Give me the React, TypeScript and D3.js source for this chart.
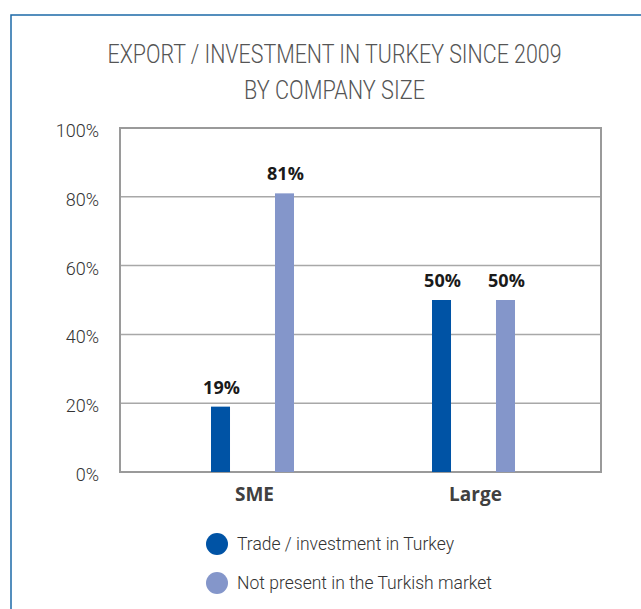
import React, { useEffect, useRef } from "react";
import * as d3 from "d3";

const categories = ["SME", "Large"];
const seriesNames = ["Trade / investment in Turkey", "Not present in the Turkish market"];
const tradeValues = [19, 50];
const notPresentValues = [81, 50];
const yTicks = [0, 20, 40, 60, 80, 100];
const titleLines = ["EXPORT / INVESTMENT IN TURKEY SINCE 2009", "BY COMPANY SIZE"];

const colors = ["#0053a5", "#8496ca"];

const App = () => {
  const svgRef = useRef<SVGSVGElement>(null);

  useEffect(() => {
    const width = 641;
    const height = 609;
    const plot = { left: 120, right: 601, top: 128, bottom: 472 };

    const svg = d3.select(svgRef.current);
    svg.selectAll("*").remove();
    svg.attr("width", width).attr("height", height);

    // outer frame
    svg
      .append("path")
      .attr("d", `M${width},15 H11 V${height}`)
      .attr("fill", "none")
      .attr("stroke", "#1d6aa8")
      .attr("stroke-width", 1.5);

    // title
    const titleWidths = [454, 181];
    svg
      .selectAll("text.title")
      .data(titleLines)
      .join("text")
      .attr("class", "title")
      .attr("x", 334.5)
      .attr("y", (d, i) => 63 + i * 36)
      .attr("text-anchor", "middle")
      .attr("font-family", "Roboto, sans-serif")
      .attr("font-weight", 300)
      .attr("font-size", 25)
      .attr("fill", "#555")
      .attr("textLength", (d, i) => titleWidths[i])
      .attr("lengthAdjust", "spacingAndGlyphs")
      .text((d) => d);

    const y = d3.scaleLinear().domain([0, 100]).range([plot.bottom, plot.top]);

    const x0 = d3.scaleBand<string>().domain(categories).range([142, 584]);
    const x1 = d3
      .scaleBand<number>()
      .domain([0, 1])
      .range([69, 152])
      .paddingInner(0.703)
      .paddingOuter(0);

    // gridlines
    svg
      .append("g")
      .selectAll("line")
      .data(yTicks.filter((t) => t > 0 && t < 100))
      .join("line")
      .attr("x1", plot.left)
      .attr("x2", plot.right)
      .attr("y1", (d) => y(d))
      .attr("y2", (d) => y(d))
      .attr("stroke", "#a8a8a8")
      .attr("stroke-width", 1.5);

    // plot box
    svg
      .append("rect")
      .attr("x", plot.left)
      .attr("y", plot.top)
      .attr("width", plot.right - plot.left)
      .attr("height", plot.bottom - plot.top)
      .attr("fill", "none")
      .attr("stroke", "#9a9a9a")
      .attr("stroke-width", 2);

    // y tick labels
    svg
      .append("g")
      .selectAll("text")
      .data(yTicks)
      .join("text")
      .attr("x", 99)
      .attr("y", (d) => y(d) + 9)
      .attr("text-anchor", "end")
      .attr("font-family", "Roboto, sans-serif")
      .attr("font-weight", 300)
      .attr("font-size", 18)
      .attr("fill", "#333")
      .text((d) => `${d}%`);

    // bars
    const series = [tradeValues, notPresentValues];
    const barData = categories.flatMap((c, ci) =>
      series.map((vals, si) => ({ c, si, v: vals[ci] }))
    );

    const g = svg.append("g");
    g.selectAll("rect")
      .data(barData)
      .join("rect")
      .attr("x", (d) => x0(d.c)! + x1(d.si)!)
      .attr("y", (d) => y(d.v))
      .attr("width", x1.bandwidth())
      .attr("height", (d) => y(0) - y(d.v))
      .attr("fill", (d) => colors[d.si]);

    g.selectAll("text")
      .data(barData)
      .join("text")
      .attr("x", (d) => x0(d.c)! + x1(d.si)! + x1.bandwidth() / 2 + 1)
      .attr("y", (d) => y(d.v) - 13)
      .attr("text-anchor", "middle")
      .attr("font-family", "'Open Sans', sans-serif")
      .attr("font-weight", 700)
      .attr("font-size", 18)
      .attr("fill", "#1a1a1a")
      .text((d) => `${d.v}%`);

    // category labels
    svg
      .append("g")
      .selectAll("text")
      .data(categories)
      .join("text")
      .attr("x", (d) => x0(d)! + x0.bandwidth() / 2 + 2)
      .attr("y", 501)
      .attr("text-anchor", "middle")
      .attr("font-family", "'Open Sans', sans-serif")
      .attr("font-weight", 700)
      .attr("font-size", 19)
      .attr("fill", "#404040")
      .text((d) => d);

    // legend
    const legendWidths = [217, 255];
    const legend = svg
      .append("g")
      .selectAll("g")
      .data(seriesNames)
      .join("g")
      .attr("transform", (d, i) => `translate(217, ${544 + i * 39})`);

    legend
      .append("circle")
      .attr("r", 11)
      .attr("fill", (d, i) => colors[i]);

    legend
      .append("text")
      .attr("x", 20)
      .attr("y", 6)
      .attr("font-family", "Roboto, sans-serif")
      .attr("font-weight", 300)
      .attr("font-size", 19)
      .attr("fill", "#333")
      .attr("textLength", (d, i) => legendWidths[i])
      .attr("lengthAdjust", "spacingAndGlyphs")
      .text((d) => d);
  }, []);

  return (
    <svg
      ref={svgRef}
      style={{ position: "absolute", left: 0, top: 0, background: "#fff" }}
    ></svg>
  );
};

export default App;
